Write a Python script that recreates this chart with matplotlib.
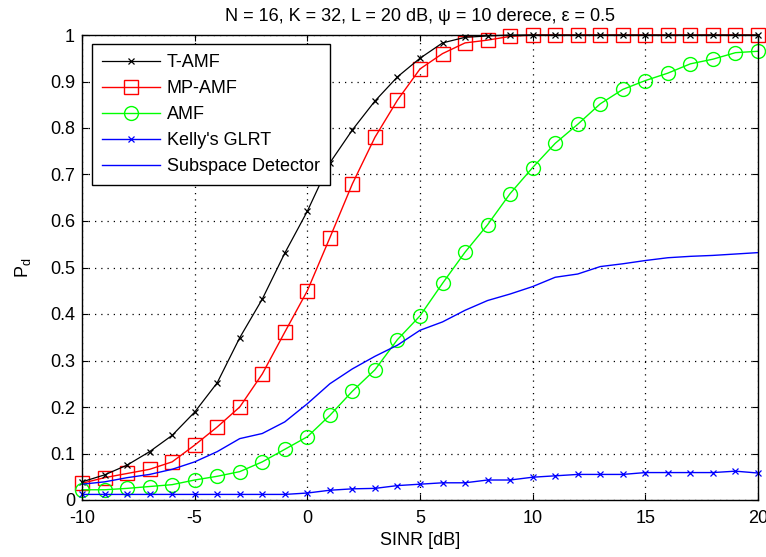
import matplotlib
matplotlib.use("Agg")
import matplotlib.pyplot as plt
import numpy as np

plt.rcParams['font.family'] = ['Liberation Sans', 'DejaVu Sans']
plt.rcParams['axes.unicode_minus'] = False

sinr = list(range(-10, 21))
t_amf = [0.039, 0.054, 0.075, 0.104, 0.139, 0.189, 0.252, 0.349, 0.432, 0.531,
         0.621, 0.725, 0.796, 0.858, 0.910, 0.950, 0.983, 0.995, 0.998, 1.0,
         1.0, 1.0, 1.0, 1.0, 1.0, 1.0, 1.0, 1.0, 1.0, 1.0, 1.0]
mp_amf = [0.036, 0.048, 0.057, 0.066, 0.082, 0.118, 0.157, 0.200, 0.271, 0.361,
          0.450, 0.564, 0.680, 0.780, 0.860, 0.927, 0.960, 0.983, 0.989, 0.997,
          1.0, 1.0, 1.0, 1.0, 1.0, 1.0, 1.0, 1.0, 1.0, 1.0, 1.0]
amf = [0.022, 0.022, 0.025, 0.029, 0.033, 0.043, 0.051, 0.061, 0.082, 0.109,
       0.136, 0.182, 0.234, 0.280, 0.345, 0.396, 0.466, 0.533, 0.592, 0.659,
       0.715, 0.767, 0.808, 0.852, 0.883, 0.902, 0.918, 0.938, 0.948, 0.962, 0.965]
kelly = [0.012, 0.012, 0.012, 0.012, 0.012, 0.012, 0.012, 0.012, 0.012, 0.012,
         0.015, 0.021, 0.024, 0.025, 0.031, 0.034, 0.037, 0.037, 0.043, 0.043,
         0.049, 0.052, 0.055, 0.055, 0.055, 0.059, 0.059, 0.059, 0.059, 0.062, 0.058]
subspace = [0.034, 0.039, 0.048, 0.055, 0.066, 0.082, 0.104, 0.132, 0.143, 0.168,
            0.207, 0.250, 0.282, 0.309, 0.333, 0.365, 0.383, 0.408, 0.429, 0.443,
            0.459, 0.479, 0.486, 0.502, 0.508, 0.515, 0.521, 0.524, 0.526, 0.529, 0.532]
labels = ['T-AMF', 'MP-AMF', 'AMF', "Kelly's GLRT", 'Subspace Detector']
title = 'N = 16, K = 32, L = 20 dB, ψ = 10 derece, ε = 0.5'

fig = plt.figure(figsize=(7.66, 5.57), dpi=100)
ax = fig.add_axes([82/766, 57/557, 676/766, 465/557])

ax.plot(sinr, t_amf, color='k', lw=0.9, marker='x', ms=5, mew=0.9, clip_on=False, label=labels[0], zorder=3)
ax.plot(sinr, mp_amf, color='#ff0000', lw=1.0, marker='s', ms=10.5, mfc='none', mew=1.0, clip_on=False, label=labels[1], zorder=2.9)
ax.plot(sinr, amf, color='#00ff00', lw=1.0, marker='o', ms=10, mfc='none', mew=1.0, clip_on=False, label=labels[2], zorder=3.1)
ax.plot(sinr, kelly, color='#0000ff', lw=1.0, marker='x', ms=5, mew=0.9, clip_on=False, label=labels[3], zorder=3.2)
ax.plot(sinr, subspace, color='#0000ff', lw=1.0, clip_on=False, label=labels[4], zorder=3.3)

ax.set_xlim(-10, 20)
ax.set_ylim(0, 1)
ax.set_xticks(np.arange(-10, 21, 5))
ax.set_yticks(np.arange(0, 1.01, 0.1))
ax.set_yticklabels(['0', '0.1', '0.2', '0.3', '0.4', '0.5', '0.6', '0.7', '0.8', '0.9', '1'])
ax.tick_params(direction='in', length=4.5, width=0.8, top=True, right=True, labelsize=13, colors='k')
ax.tick_params(axis='x', pad=7)
ax.tick_params(axis='y', pad=5)
ax.grid(True, color='k', lw=0.9, linestyle=(0, (1, 4)))
for s in ax.spines.values():
    s.set_linewidth(1.0)
    s.set_zorder(5)

ax.set_title(title, fontsize=13, pad=10)
ax.set_xlabel('SINR [dB]', fontsize=13, labelpad=4)
ax.set_ylabel(r'P$_\mathregular{d}$', fontsize=13, labelpad=12)

leg = ax.legend(loc='upper left', bbox_to_anchor=(10/676, 456/465), borderaxespad=0,
                fontsize=13, numpoints=1, fancybox=False, framealpha=1, edgecolor='k',
                handlelength=3.2, handletextpad=0.4, labelspacing=0.5, borderpad=0.55)
leg.get_frame().set_linewidth(1.0)
leg.set_zorder(10)

fig.savefig('out.png', dpi=100, facecolor='white')
